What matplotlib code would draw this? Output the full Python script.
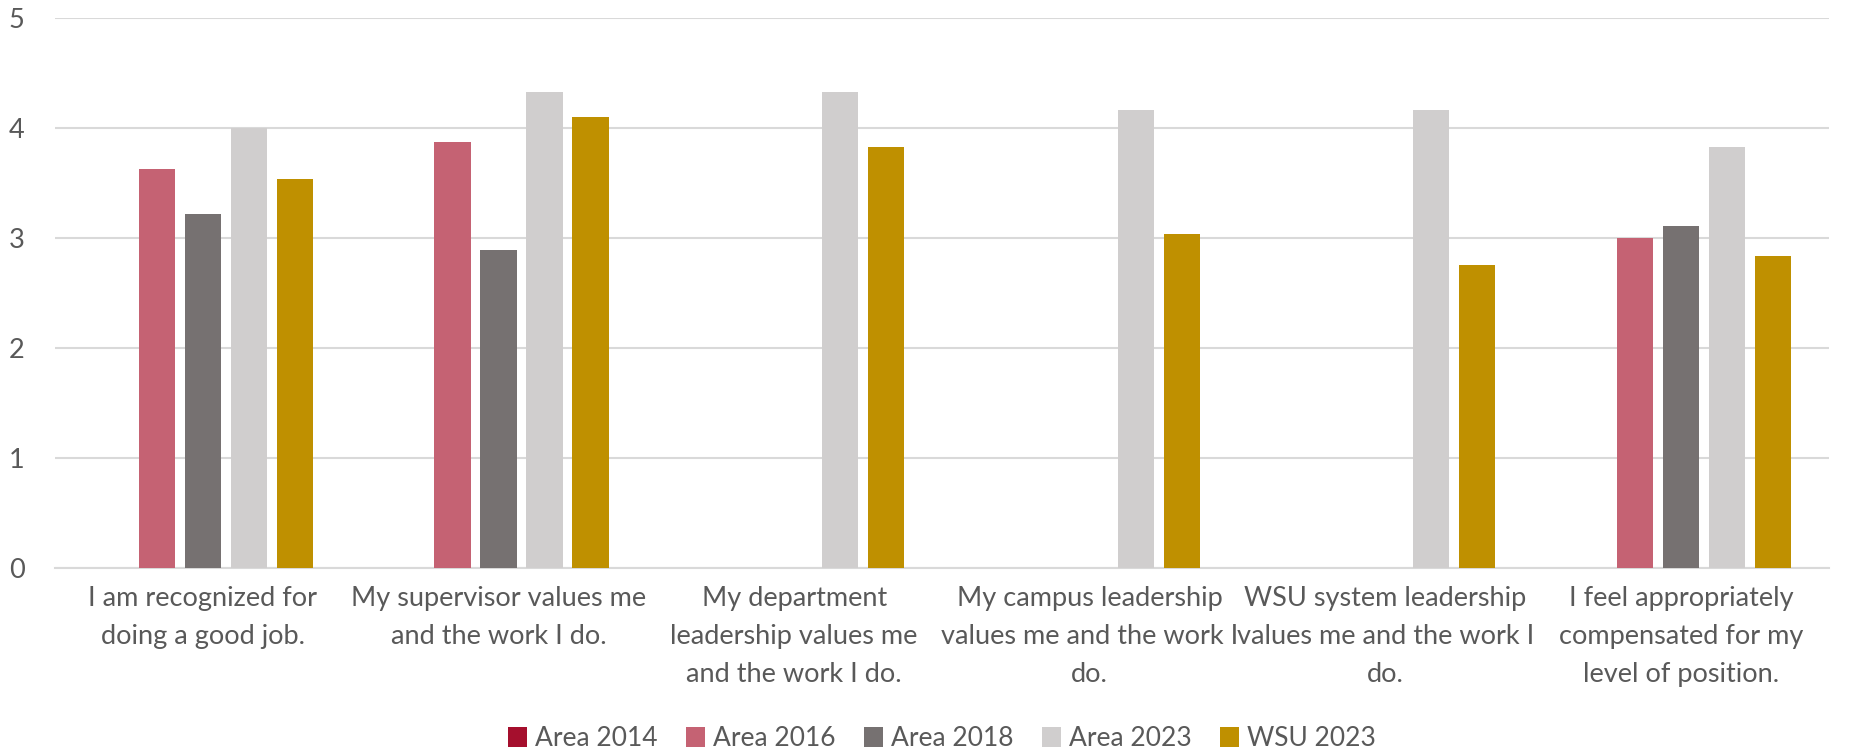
import matplotlib
matplotlib.use("Agg")
import matplotlib.pyplot as plt
import numpy as np

plt.rcParams['font.family'] = ['Lato', 'DejaVu Sans']

categories = [
    "I am recognized for\ndoing a good job.",
    "My supervisor values me\nand the work I do.",
    "My department\nleadership values me\nand the work I do.",
    "My campus leadership\nvalues me and the work I\ndo.",
    "WSU system leadership\nvalues me and the work I\ndo.",
    "I feel appropriately\ncompensated for my\nlevel of position.",
]
series_names = ["Area 2014", "Area 2016", "Area 2018", "Area 2023", "WSU 2023"]
area_2014 = [np.nan, np.nan, np.nan, np.nan, np.nan, np.nan]
area_2016 = [3.63, 3.88, np.nan, np.nan, np.nan, 3.00]
area_2018 = [3.22, 2.89, np.nan, np.nan, np.nan, 3.11]
area_2023 = [4.00, 4.33, 4.33, 4.17, 4.17, 3.83]
wsu_2023 = [3.54, 4.10, 3.83, 3.04, 2.76, 2.84]
colors = ["#A50F2D", "#C56273", "#767171", "#D0CECE", "#BF9000"]

all_series = [area_2014, area_2016, area_2018, area_2023, wsu_2023]

fig = plt.figure(figsize=(18.53, 7.51), dpi=100)
ax = fig.add_axes([0.0297, 0.2433, 0.9573, 0.7323])

x = np.arange(len(categories))
step = 0.1556
width = 0.122
for i, (name, vals, c) in enumerate(zip(series_names, all_series, colors)):
    ax.bar(x + (i - 2) * step, vals, width, color=c, label=name, zorder=3)

ax.set_xlim(-0.5, len(categories) - 0.5)
ax.set_ylim(0, 5)
ax.set_yticks(range(6))
ax.yaxis.grid(True, color="#D9D9D9", linewidth=1.5, zorder=0)
ax.set_axisbelow(True)
for s in ["top", "right", "left"]:
    ax.spines[s].set_visible(False)
ax.spines["bottom"].set_color("#D9D9D9")
ax.spines["bottom"].set_linewidth(1.5)
ax.tick_params(axis="both", length=0, labelcolor="#595959", labelsize=19.5)
ax.tick_params(axis="x", pad=13)
ax.tick_params(axis="y", pad=22)
ax.set_xticks(x)
ax.set_xticklabels(categories, linespacing=1.65)

ax.legend(loc="center", bbox_to_anchor=(0.5, -0.31), ncol=5, frameon=False,
          fontsize=19, labelcolor="#595959", handlelength=0.75, handleheight=0.75,
          handletextpad=0.3, columnspacing=1.05)

fig.savefig("out.png", dpi=100)
